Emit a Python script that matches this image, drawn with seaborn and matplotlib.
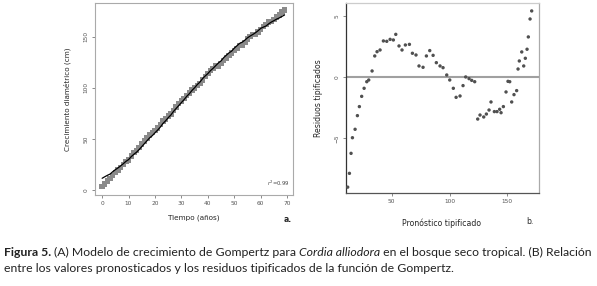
import matplotlib
matplotlib.use("Agg")
import matplotlib.pyplot as plt
import seaborn as sns
import numpy as np
import pandas as pd

# Data
#--------------------------------------------------------------------------------
years = list(range(70))

# fitted Gompertz values (= "Pronóstico" in panel b)
predicted = [11.9, 13.4, 14.8, 16.0, 18.3, 20.3, 22.0, 24.0, 26.1, 28.4,
             30.1, 33.0, 35.3, 37.3, 39.9, 42.8, 45.7, 48.6, 51.4, 53.5,
             56.3, 58.9, 61.8, 65.3, 67.9, 71.0, 73.6, 77.1, 80.0, 82.9,
             85.8, 88.6, 91.8, 94.4, 97.6, 100.2, 103.3, 105.7, 109.1, 111.7,
             114.0, 116.9, 119.2, 121.8, 124.4, 126.4, 129.6, 131.9, 134.2, 135.9,
             138.8, 141.1, 143.4, 144.6, 146.6, 148.9, 150.6, 152.1, 153.8, 155.8,
             158.1, 159.3, 160.4, 162.5, 164.2, 165.6, 167.1, 168.2, 169.7, 171.1]

observed = [4.0, 6.5, 9.3, 11.6, 14.6, 17.5, 19.9, 22.6, 25.3, 28.1,
            29.9, 33.5, 36.8, 39.1, 41.9, 45.4, 48.3, 51.3, 54.1, 56.6,
            58.6, 60.9, 64.1, 67.7, 69.6, 72.6, 74.4, 77.8, 81.5, 84.8,
            87.4, 89.7, 92.6, 95.1, 97.8, 100.0, 102.5, 104.3, 107.8, 111.1,
            114.0, 116.8, 119.0, 121.5, 121.4, 123.7, 126.7, 129.3, 131.8, 134.1,
            136.3, 138.6, 141.1, 142.0, 144.5, 147.8, 150.3, 151.8, 152.0, 154.6,
            157.1, 159.9, 161.6, 164.3, 165.0, 167.0, 169.1, 171.1, 173.9, 175.9]

residuals = [-9.0, -7.87, -6.23, -4.95, -4.26, -3.14, -2.40, -1.56, -0.90, -0.36,
             -0.22, 0.52, 1.75, 2.10, 2.24, 2.98, 2.95, 3.11, 3.06, 3.52,
             2.57, 2.24, 2.65, 2.70, 1.97, 1.83, 0.93, 0.82, 1.75, 2.19,
             1.80, 1.20, 0.93, 0.79, 0.19, -0.22, -0.90, -1.64, -1.53, -0.68,
             0.03, -0.11, -0.25, -0.36, -3.42, -3.09, -3.25, -3.01, -2.68, -2.02,
             -2.81, -2.81, -2.62, -2.90, -2.40, -1.20, -0.33, -0.36, -2.02, -1.42,
             -1.09, 0.68, 1.34, 2.08, 0.93, 1.56, 2.30, 3.31, 4.78, 5.44]

df = pd.DataFrame({'tiempo': years, 'obs': observed, 'pred': predicted, 'resid': residuals})

sns.set_style("white")
plt.rcParams['font.family'] = ['DejaVu Sans']

fig = plt.figure(figsize=(5.97, 2.86), dpi=100)
W, H = 597.0, 286.0

def px_axes(x0, y0, x1, y1):
    return fig.add_axes([x0 / W, 1 - y1 / H, (x1 - x0) / W, (y1 - y0) / H])

tick_col = '#555555'

# Panel a: growth curve
#--------------------------------------------------------------------------------
ax1 = px_axes(95, 3, 293, 195)
sns.scatterplot(data=df, x='tiempo', y='obs', marker='s', s=15, color='#8a8a8a',
                edgecolor='none', ax=ax1)
sns.lineplot(data=df, x='tiempo', y='pred', color='black', lw=0.9, ax=ax1)
ax1.set_xlim(-2.7, 72.2)
ax1.set_ylim(-4.4, 182.8)
ax1.set_xticks([0, 10, 20, 30, 40, 50, 60, 70])
ax1.set_yticks([0, 50, 100, 150])
ax1.tick_params(axis='both', labelsize=4.2, length=2.5, width=0.6, color='#777777',
                labelcolor=tick_col, pad=2, direction='out', bottom=True, left=True)
for lab in ax1.get_yticklabels():
    lab.set_rotation(90)
    lab.set_va('center')
for sp in ax1.spines.values():
    sp.set_color('#aaaaaa')
    sp.set_linewidth(0.8)
ax1.set_xlabel('Tiempo (años)', fontsize=5.2, labelpad=6)
ax1.set_ylabel('Crecimiento diamétrico (cm)', fontsize=5.2, labelpad=9)
ax1.text(0.985, 0.035, r'$r^2$=0.99', transform=ax1.transAxes, fontsize=3.8,
         ha='right', va='bottom', color='#444444')
fig.text(288 / W, 1 - 219 / H, 'a.', fontsize=5.5, fontweight='bold', ha='center', va='center')

# Panel b: residuals
#--------------------------------------------------------------------------------
ax2 = px_axes(345.5, 3, 538.5, 193)
ax2.axhline(0, color='#a0a0a0', lw=1.5, zorder=1)
sns.scatterplot(data=df, x='pred', y='resid', marker='o', s=6, color='#505050',
                edgecolor='none', ax=ax2, zorder=3, clip_on=False)
ax2.set_xlim(10.0, 177.0)
ax2.set_ylim(-9.48, 6.09)
ax2.set_xticks([50, 100, 150])
ax2.set_yticks([-5, 0, 5])
ax2.tick_params(axis='both', labelsize=4.2, length=2.5, width=0.6, color='#777777',
                labelcolor=tick_col, pad=2, direction='out', bottom=True, left=True)
for lab in ax2.get_yticklabels():
    lab.set_rotation(90)
    lab.set_va('center')
ax2.spines['left'].set_color('#333333')
ax2.spines['bottom'].set_color('#555555')
ax2.spines['top'].set_color('#cccccc')
ax2.spines['right'].set_color('#aaaaaa')
for sp in ax2.spines.values():
    sp.set_linewidth(0.9)
ax2.set_xlabel('Pronóstico tipificado', fontsize=5.6, labelpad=10)
ax2.set_ylabel('Residuos tipificados', fontsize=5.6, labelpad=8)
fig.text(530 / W, 1 - 222 / H, 'b.', fontsize=5.5, ha='center', va='center')

# Caption with mixed styles
#--------------------------------------------------------------------------------
cap_font = ['Lato', 'DejaVu Sans']
cap_size = 8.8
renderer = fig.canvas.get_renderer()

def write_line(parts, x0, y0):
    x = x0
    for txt, style in parts:
        kw = dict(fontsize=cap_size, family=cap_font, va='baseline', ha='left', color='#222222')
        if style == 'b':
            kw['fontweight'] = 'bold'
        if style == 'i':
            kw['fontstyle'] = 'italic'
        t = fig.text(x / W, 1 - y0 / H, txt, **kw)
        bb = t.get_window_extent(renderer=renderer)
        x += bb.width

write_line([('Figura 5. ', 'b'),
            ('(A) Modelo de crecimiento de Gompertz para ', 'n'),
            ('Cordia alliodora', 'i'),
            (' en el bosque seco tropical. (B) Relación', 'n')], 4, 256)
write_line([('entre los valores pronosticados y los residuos tipificados de la función de Gompertz.', 'n')], 4, 272)

fig.savefig('out.png', dpi=100)
